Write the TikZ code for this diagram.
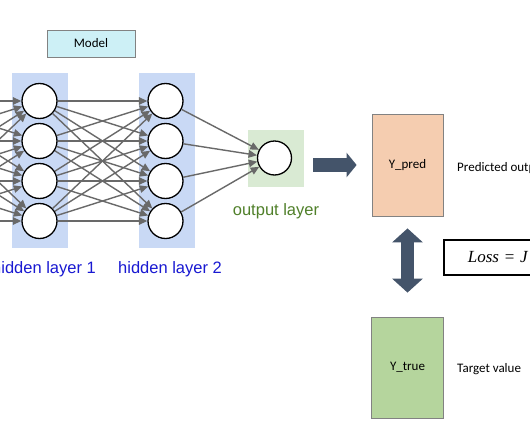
\documentclass[tikz,border=0pt]{standalone}
\usepackage{fontspec}
\setmainfont{Carlito}
\newfontfamily\arialf{Liberation Sans}
\newfontfamily\timesf{Liberation Serif}
\usetikzlibrary{arrows.meta}
\definecolor{layerblue}{RGB}{201,217,245}
\definecolor{outgreen}{RGB}{217,234,211}
\definecolor{modelcyan}{RGB}{205,240,246}
\definecolor{predpeach}{RGB}{245,205,176}
\definecolor{truegreen}{RGB}{181,213,157}
\definecolor{arrowdark}{RGB}{68,84,106}
\definecolor{linkgray}{RGB}{105,105,105}
\definecolor{boxgray}{RGB}{130,130,130}
\definecolor{labelblue}{RGB}{25,25,210}
\definecolor{labelgreen}{RGB}{80,128,42}
\begin{document}
\begin{tikzpicture}[x=1pt,y=-1pt,
  neuron/.style={circle,draw=black,line width=1.3pt,fill=white,minimum size=35pt,inner sep=0pt},
  conn/.style={draw=linkgray,line width=1.4pt,-{Triangle[length=8.5pt,width=7.5pt]}},
  layerbg/.style={fill=layerblue,draw=none,minimum width=56pt,minimum height=175pt,inner sep=0pt},
  infobox/.style={draw=boxgray,line width=0.8pt,inner sep=0pt,font=\fontsize{13}{15}\selectfont},
  blockarrow/.style={draw=arrowdark,line width=14pt,-{Triangle[length=10pt,width=24pt]}},
  dblarrow/.style={draw=arrowdark,line width=13pt,{Triangle[length=14pt,width=30pt]}-{Triangle[length=14pt,width=30pt]}},
  bluelabel/.style={font=\arialf\fontsize{16.5}{19}\selectfont,text=labelblue,inner sep=0pt},
  greenlabel/.style={font=\arialf\fontsize{16.5}{19}\selectfont,text=labelgreen,inner sep=0pt},
  plaintext/.style={font=\fontsize{13}{15}\selectfont,inner sep=0pt},
  lossbox/.style={draw=black,line width=1.8pt,minimum height=35pt,text width=100pt,inner xsep=24pt,inner ysep=0pt,align=left,font=\timesf\fontsize{17}{20}\selectfont}
]
\useasboundingbox (0,0) rectangle (530,442);
\clip (0,0) rectangle (530,442);
\fill[white] (0,0) rectangle (530,442);

% model label
\node[infobox,fill=modelcyan,minimum width=88pt,minimum height=27pt] (model) at (91,43.5) {Model};

% layer backgrounds
\node[layerbg] (l1) at (40,160.5) {};
\node[layerbg] (l2) at (167,160.5) {};
\node[fill=outgreen,minimum width=56pt,minimum height=57pt,inner sep=0pt] (outbg) at (276,158.5) {};

% neurons
\foreach \i in {1,...,4}{
  \coordinate (in\i) at (-86.5,{61+40*\i});
  \node[neuron] (a\i) at (39.5,{61+40*\i}) {};
  \node[neuron] (b\i) at (165.5,{61+40*\i}) {};
}
\node[neuron,minimum size=34pt] (out) at (274.5,158) {};

% connections
\foreach \i in {1,...,4}{
  \foreach \j in {1,...,4}{
    \draw[conn] (in\i) -- (a\j);
    \draw[conn] (a\i) -- (b\j);
  }
  \draw[conn] (b\i) -- (out);
}

% layer labels
\node[bluelabel] (lab1) at (44,269) {hidden layer 1};
\node[bluelabel] (lab2) at (170,269) {hidden layer 2};
\node[greenlabel] (lab3) at (276,211) {output layer};

% prediction / target boxes
\node[infobox,fill=predpeach,minimum width=71pt,minimum height=102pt] (ypred) at (407.5,165) {Y\_pred};
\node[infobox,fill=truegreen,minimum width=72pt,minimum height=101pt] (ytrue) at (407.5,367.5) {Y\_true};
\node[plaintext,anchor=base west] (predtxt) at (457,171) {Predicted output};
\node[plaintext,anchor=base west] (targtxt) at (457,372) {Target value};

% block arrows
\draw[blockarrow] ([xshift=9pt,yshift=-6.5pt]outbg.east) -- ([xshift=-15pt]ypred.west);
\draw[dblarrow] ([yshift=-12pt]ypred.south) -- ([yshift=24pt]ytrue.north);

% loss box
\node[lossbox,anchor=west] (loss) at (443,257.5) {\itshape Loss\/ \upshape=\itshape\ J};
\end{tikzpicture}
\end{document}
